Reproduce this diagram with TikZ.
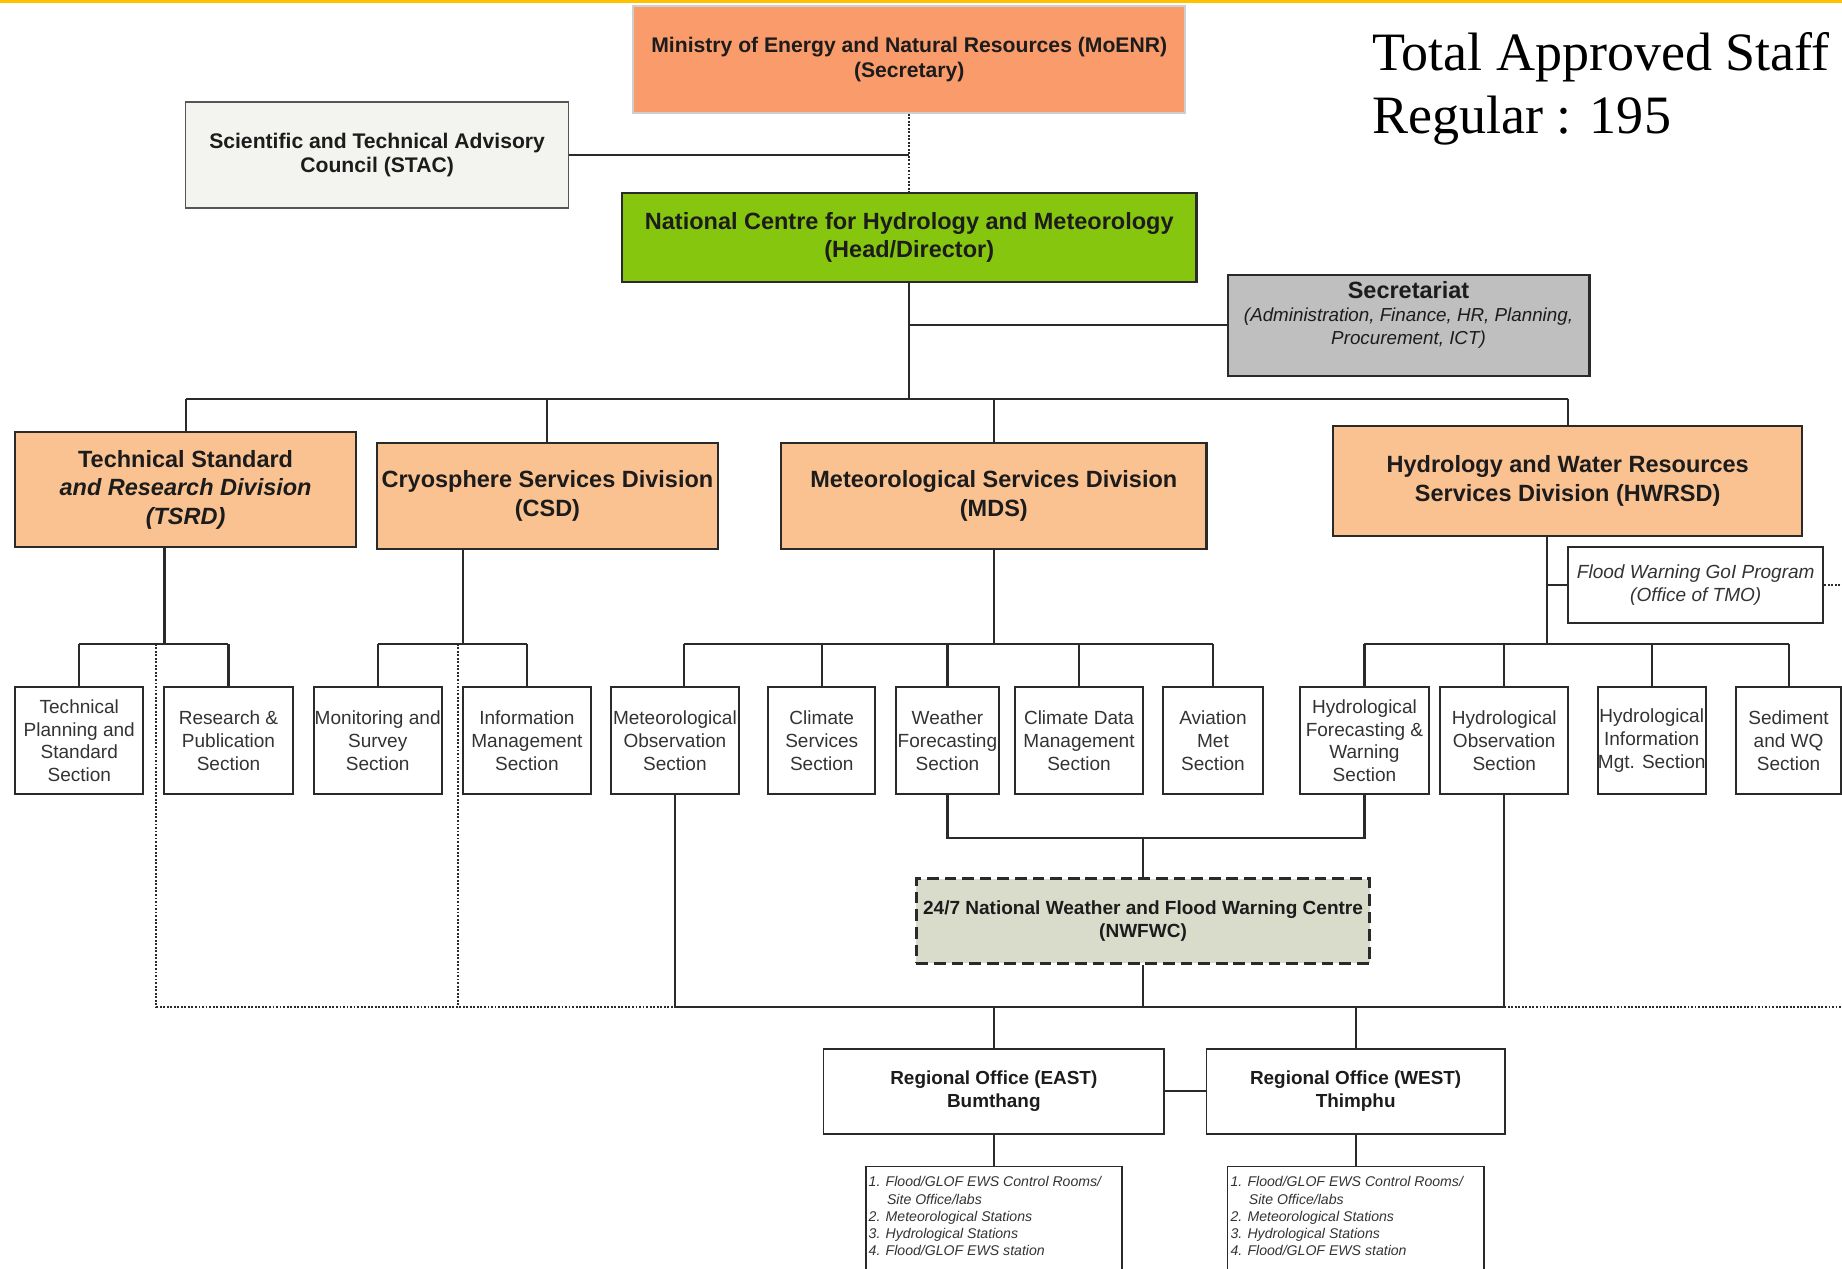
\documentclass[tikz,border=0pt]{standalone}
\usepackage{fontspec}
\setmainfont{Liberation Sans}
\newfontfamily\timesfont{Liberation Serif}
\usetikzlibrary{calc}
\definecolor{topgold}{HTML}{FFC000}
\definecolor{moenrfill}{HTML}{F99B6B}
\definecolor{moenrline}{HTML}{CFCFCF}
\definecolor{nchmfill}{HTML}{86C60E}
\definecolor{stacfill}{HTML}{F3F4EF}
\definecolor{secrfill}{HTML}{BFBFBF}
\definecolor{divfill}{HTML}{FAC191}
\definecolor{nwfill}{HTML}{D9DCCB}
\definecolor{boxline}{HTML}{2A2A2A}
\definecolor{textdark}{HTML}{1C1C1C}
\definecolor{secttext}{HTML}{333333}
\newcommand\myfs[2]{\fontsize{#1}{#2}\selectfont}
\tikzset{
  box/.style={draw=boxline, line width=1.8pt, inner sep=1pt, align=center, text=textdark},
  topbox/.style={box, font=\myfs{18}{21}\bfseries},
  divbox/.style={box, fill=divfill, font=\myfs{20}{24.5}\bfseries},
  secbox/.style={box, fill=white, line width=1.7pt, minimum height=91pt, inner sep=0pt, font=\myfs{16.2}{19.4}, text=secttext},
  conn/.style={line width=1.8pt, draw=boxline},
  dotconn/.style={line width=1.6pt, draw=boxline, dash pattern=on 1.6pt off 1.4pt},
}
\begin{document}
\begin{tikzpicture}[x=1pt,y=-1pt]
\clip (0,0) rectangle (1568,1079.4);
\fill[white] (0,0) rectangle (1568,1079.4);
\fill[topgold] (0,0) rectangle (1568,2.6);

% bus coordinates
\coordinate (busA) at (0,340);
\coordinate (busB) at (0,548);
\coordinate (busD) at (0,713);
\coordinate (busC) at (0,857);
\coordinate (redge) at (1590,0);

% top level
\node[topbox, fill=moenrfill, draw=moenrline, line width=1.5pt, minimum width=470pt, minimum height=91pt] (moenr) at (774,50.5)
  {Ministry of Energy and Natural Resources (MoENR)\\(Secretary)};
\node[topbox, fill=stacfill, draw=boxline!80, line width=1.5pt, minimum width=326pt, minimum height=90pt] (stac) at (321,132)
  {Scientific and Technical Advisory\\Council (STAC)};
\node[box, fill=nchmfill, minimum width=489pt, minimum height=76pt, font=\myfs{20}{24}\bfseries] (nchm) at (774,202)
  {National Centre for Hydrology and Meteorology\\(Head/Director)};
\node[box, fill=secrfill, minimum width=308pt, minimum height=86pt] (secr) at (1199,277) {};
\node[align=center, inner sep=0pt, font=\myfs{16}{19.5}\itshape, text=textdark] (secrt) at (1199,268)
  {{\myfs{20}{21}\upshape\bfseries Secretariat}\\(Administration, Finance, HR, Planning,\\Procurement, ICT)};

\node[anchor=north west, align=left, inner sep=0pt, font=\timesfont\myfs{46}{54}, text=black] (staff) at (1168,27)
  {Total Approved Staff\\Regular : 195};

% divisions
\node[divbox, minimum width=290pt, minimum height=98pt] (tsrd) at (158,417)
  {Technical Standard\\\textit{and Research Division}\\\textit{(TSRD)}};
\node[divbox, minimum width=290pt, minimum height=90pt] (csd) at (466,422)
  {Cryosphere Services Division\\(CSD)};
\node[divbox, minimum width=362pt, minimum height=90pt] (mds) at (846,422)
  {Meteorological Services Division\\(MDS)};
\node[divbox, minimum width=399pt, minimum height=93pt] (hwrsd) at (1334.5,409.5)
  {Hydrology and Water Resources\\Services Division (HWRSD)};
\node[box, fill=white, line width=1.7pt, minimum width=217pt, minimum height=64pt, font=\myfs{16.2}{19.5}\itshape, text=secttext] (fw) at (1443.5,498)
  {Flood Warning GoI Program\\(Office of TMO)};

% sections
\node[secbox, minimum width=109pt] (s1) at (67.5,630.5) {Technical\\Planning and\\Standard\\Section};
\node[secbox, minimum width=109pt] (s2) at (194.5,630.5) {Research \&\\Publication\\Section};
\node[secbox, minimum width=109pt] (s3) at (321.5,630.5) {Monitoring and\\Survey\\Section};
\node[secbox, minimum width=109pt] (s4) at (448.5,630.5) {Information\\Management\\Section};
\node[secbox, minimum width=109pt] (s5) at (574.5,630.5) {Meteorological\\Observation\\Section};
\node[secbox, minimum width=91pt] (s6) at (699.5,630.5) {Climate\\Services\\Section};
\node[secbox, minimum width=87pt] (s7) at (806.5,630.5) {Weather\\Forecasting\\Section};
\node[secbox, minimum width=109pt] (s8) at (918.5,630.5) {Climate Data\\Management\\Section};
\node[secbox, minimum width=85pt] (s9) at (1032.5,630.5) {Aviation\\Met\\Section};
\node[secbox, minimum width=109pt] (s10) at (1161.5,630.5) {Hydrological\\Forecasting \&\\Warning\\Section};
\node[secbox, minimum width=109pt] (s11) at (1280.5,630.5) {Hydrological\\Observation\\Section};
\node[secbox, minimum width=92pt] (s12) at (1406,630.5) {Hydrological\\Information\\Mgt. Section};
\node[secbox, minimum width=89pt] (s13) at (1522.5,630.5) {Sediment\\and WQ\\Section};

% NWFWC
\node[box, fill=nwfill, line width=2.6pt, dash pattern=on 10pt off 5pt, minimum width=386pt, minimum height=72pt, font=\myfs{16.2}{19.5}\bfseries] (nwfwc) at (973,784)
  {24/7 National Weather and Flood Warning Centre\\(NWFWC)};

% regional offices
\node[box, line width=1.6pt, minimum width=290pt, minimum height=72pt, font=\myfs{16.1}{20}\bfseries] (east) at (846,929)
  {Regional Office (EAST)\\Bumthang};
\node[box, line width=1.6pt, minimum width=254pt, minimum height=72pt, font=\myfs{16.1}{20}\bfseries] (west) at (1154,929)
  {Regional Office (WEST)\\Thimphu};
\node[box, line width=1.4pt, minimum width=218pt, minimum height=100pt] (elist) at (846,1043) {};
\node[box, line width=1.4pt, minimum width=218pt, minimum height=100pt] (wlist) at (1154,1043) {};
\node[anchor=north west, align=left, inner sep=0pt, font=\myfs{12}{14.7}\itshape, text=secttext] (elistt) at ([xshift=3pt,yshift=-9pt]elist.north west)
  {1. Flood/GLOF EWS Control Rooms/\\\hspace*{1.3em}Site Office/labs\\2. Meteorological Stations\\3. Hydrological Stations\\4. Flood/GLOF EWS station};
\node[anchor=north west, align=left, inner sep=0pt, font=\myfs{12}{14.7}\itshape, text=secttext] (wlistt) at ([xshift=3pt,yshift=-9pt]wlist.north west)
  {1. Flood/GLOF EWS Control Rooms/\\\hspace*{1.3em}Site Office/labs\\2. Meteorological Stations\\3. Hydrological Stations\\4. Flood/GLOF EWS station};

% connectors top
\draw[dotconn] (moenr.south) -- (nchm.north);
\draw[conn] (stac.east) -- (stac.east -| moenr.south);
\draw[conn] (nchm.south) -- (nchm.south |- busA);
\draw[conn] (secr.west) -- (secr.west -| nchm.south);
\draw[conn] (tsrd.north |- busA) -- (hwrsd.north |- busA);
\foreach \n in {tsrd,csd,mds,hwrsd} \draw[conn] (\n.north) -- (\n.north |- busA);

% division to sections
\coordinate (tdrop) at (140,466);
\coordinate (cdrop) at (394,467);
\coordinate (hdrop) at (1317,456);
\draw[conn] (tdrop) -- (tdrop |- busB);
\draw[conn] (cdrop) -- (cdrop |- busB);
\draw[conn] (mds.south) -- (mds.south |- busB);
\draw[conn] (hdrop) -- (hdrop |- busB);
\draw[conn] (fw.west) -- (fw.west -| hdrop);
\draw[conn] (s1.north |- busB) -- (s2.north |- busB);
\draw[conn] (s3.north |- busB) -- (s4.north |- busB);
\draw[conn] ([xshift=8pt]s5.north |- busB) -- (s9.north |- busB);
\draw[conn] (s10.north |- busB) -- (s13.north |- busB);
\foreach \n in {s1,s2,s3,s4,s6,s7,s8,s9,s10,s11,s12,s13} \draw[conn] (\n.north) -- (\n.north |- busB);
\draw[conn] ([xshift=8pt]s5.north) -- ([xshift=8pt]s5.north |- busB);

% lower connectors
\draw[conn] (s7.south) -- (s7.south |- busD) -- (s10.south |- busD) -- (s10.south);
\draw[conn] (nwfwc.north |- busD) -- (nwfwc.north);
\draw[conn] (nwfwc.south) -- (nwfwc.south |- busC);
\draw[conn] (s5.south) -- (s5.south |- busC) -- (s11.south |- busC) -- (s11.south);
\draw[conn] (east.north |- busC) -- (east.north);
\draw[conn] (west.north |- busC) -- (west.north);
\draw[conn] (east.east) -- (west.west);
\draw[conn] (east.south) -- (elist.north);
\draw[conn] (west.south) -- (wlist.north);

% dotted links
\coordinate (tdot) at (133,548);
\coordinate (cdot) at (390,548);
\draw[dotconn] (tdot) -- (tdot |- busC) -- (s5.south |- busC);
\draw[dotconn] (cdot) -- (cdot |- busC);
\draw[dotconn] (s11.south |- busC) -- (redge |- busC);
\draw[dotconn] (fw.east) -- (fw.east -| redge);
\end{tikzpicture}
\end{document}
